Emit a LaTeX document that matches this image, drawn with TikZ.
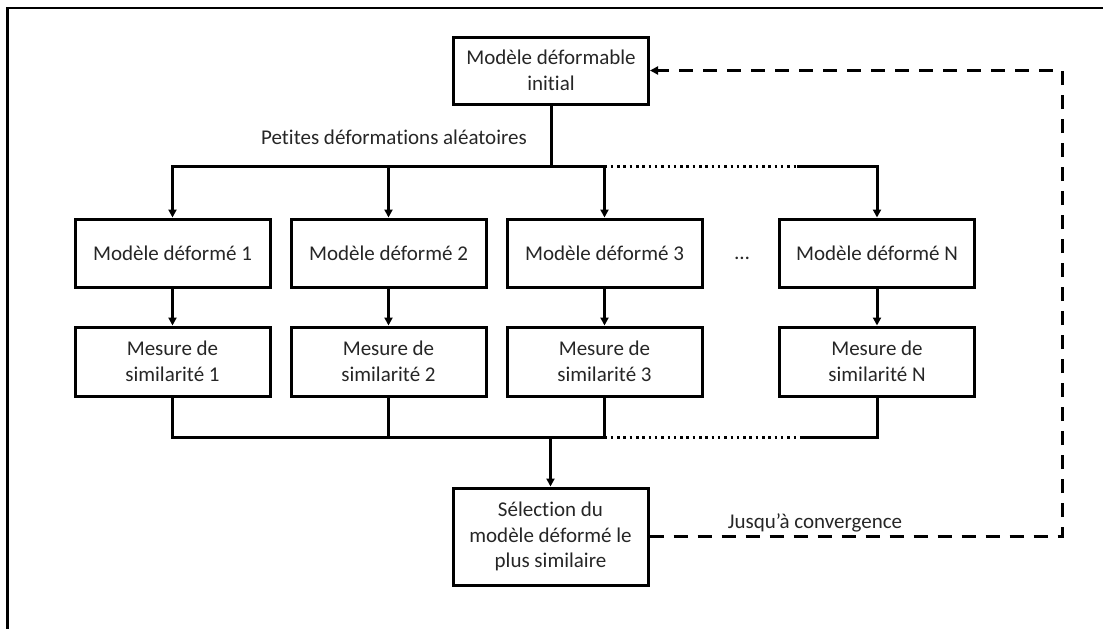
\documentclass[tikz,border=0pt]{standalone}
\usepackage{fontspec}
\setmainfont{Carlito}[Ligatures=NoCommon]
\usetikzlibrary{arrows.meta}

\newcommand\BW{195pt}
\newcommand\RowA{253}
\newcommand\RowB{361.5}
\newcommand\TopY{166}
\newcommand\BotY{437}

\tikzset{
  txt/.style={text=black!85, font=\fontsize{21}{25.5}\selectfont, align=center},
  box/.style={txt, draw, line width=3pt, minimum width=\BW, inner sep=2pt},
  wire/.style={line width=3pt},
  arr/.style={wire, -{Triangle[length=8pt,width=8pt]}},
  dotline/.style={line width=3pt, dash pattern=on 2.5pt off 3.8pt},
  loopline/.style={line width=3pt, dash pattern=on 14pt off 10pt, -{Triangle[length=8pt,width=8pt]}}
}

\begin{document}
\begin{tikzpicture}[x=1pt, y=-1pt]
  \useasboundingbox (0,0) rectangle (1103,629);

  \draw[line width=2.2pt] (7.5,629) -- (7.5,8) -- (1103,8); %% frame

  \node[box, minimum height=67pt] (init) at (551,70.5) {Modèle déformable\\initial};

  \node[box, minimum height=68pt] (def1) at (172.5,\RowA) {Modèle déformé 1};
  \node[box, minimum height=68pt] (def2) at (388.5,\RowA) {Modèle déformé 2};
  \node[box, minimum height=68pt] (def3) at (604.5,\RowA) {Modèle déformé 3};
  \node[box, minimum height=68pt] (defN) at (877,\RowA) {Modèle déformé N};
  \node[txt] (etc) at (742,258) {…};

  \node[box, minimum height=69pt] (mes1) at (172.5,\RowB) {Mesure de\\similarité 1};
  \node[box, minimum height=69pt] (mes2) at (388.5,\RowB) {Mesure de\\similarité 2};
  \node[box, minimum height=69pt] (mes3) at (604.5,\RowB) {Mesure de\\similarité 3};
  \node[box, minimum height=69pt] (mesN) at (877,\RowB) {Mesure de\\similarité N};

  \node[box, minimum height=97pt] (sel) at (550.5,536.5) {Sélection du\\modèle déformé le\\plus similaire};

  \node[txt] (petites) at (394,137) {Petites déformations aléatoires};
  \node[txt] (jusqu) at (815,523) {Jusqu’à convergence};

  \coordinate (split) at (551,\TopY);
  \coordinate (dotA) at (797,\TopY);
  \coordinate (merge) at (550.5,\BotY);
  \coordinate (dotB) at (800,\BotY);
  \coordinate (back) at (1062,536.5);

  \draw[wire] (init) -- (split); %% init split
  \draw[arr] (split) -| (def1); %% split def1
  \draw[arr] (split) -| (def2); %% split def2
  \draw[arr] (split) -| (def3); %% split def3
  \draw[dotline] (def3 |- split) -- (dotA); %% def3 ... defN
  \draw[arr] (dotA) -| (defN); %% dotA defN

  \draw[arr] (def1) -- (mes1);
  \draw[arr] (def2) -- (mes2);
  \draw[arr] (def3) -- (mes3);
  \draw[arr] (defN) -- (mesN);

  \draw[wire] (mes1) |- (merge); %% mes1 merge
  \draw[wire] (mes2) |- (merge); %% mes2 merge
  \draw[wire] (mes3) |- (merge); %% mes3 merge
  \draw[dotline] (mes3 |- merge) -- (dotB); %% mes3 ... mesN
  \draw[wire] (mesN) |- (dotB); %% mesN dotB
  \draw[arr] (merge) -- (sel); %% merge sel

  \draw[loopline] (sel) -- (back) |- (init); %% sel init

\end{tikzpicture}
\end{document}
